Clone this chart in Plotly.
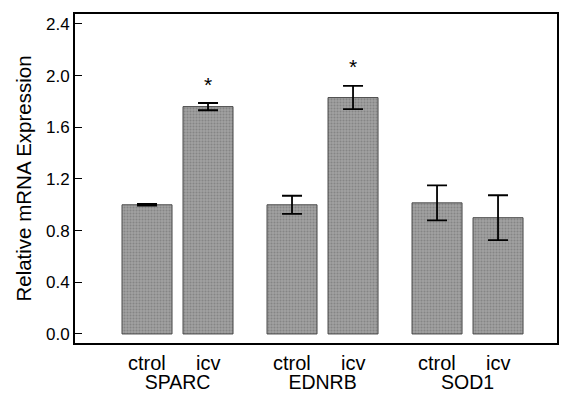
import plotly.graph_objects as go

genes = ["SPARC", "EDNRB", "SOD1"]
conditions = ["ctrol", "icv"]
ctrol_values = [1.00, 1.00, 1.015]
ctrol_errors = [0.006, 0.07, 0.135]
icv_values = [1.76, 1.83, 0.90]
icv_errors = [0.028, 0.09, 0.174]
icv_significant = [True, True, False]
y_ticks = [0.0, 0.4, 0.8, 1.2, 1.6, 2.0, 2.4]
y_title = "Relative mRNA Expression"

bar_color = "#a0a0a0"
edge_color = "#4a4a4a"
font_family = "Liberation Sans, Arial, sans-serif"

fig = go.Figure()
for name, vals, errs in [("ctrol", ctrol_values, ctrol_errors), ("icv", icv_values, icv_errors)]:
    fig.add_trace(go.Bar(
        x=genes, y=vals, name=name,
        marker=dict(color=bar_color, line=dict(color=edge_color, width=1),
                    pattern=dict(shape=".", size=3, solidity=0.35, fgcolor="#6a6a6a",
                                 fillmode="overlay")),
        error_y=dict(type="data", array=errs, visible=True, color="black",
                     thickness=1.8, width=10),
        showlegend=False,
    ))

annotations = []
shift = 30.5
for g in genes:
    for cond, xs in zip(conditions, [-shift, shift]):
        annotations.append(dict(x=g, xref="x", xshift=xs, y=-0.062, yref="paper",
                                text=cond, showarrow=False, yanchor="middle",
                                font=dict(size=20, color="black", family=font_family)))
for g, v, e, sig in zip(genes, icv_values, icv_errors, icv_significant):
    if sig:
        annotations.append(dict(x=g, xref="x", xshift=shift, y=v + e, yref="y",
                                yshift=19, text="*", showarrow=False, yanchor="middle",
                                font=dict(size=21, color="black", family=font_family)))

fig.update_layout(
    width=570, height=396,
    margin=dict(l=75, r=13, t=14, b=53),
    paper_bgcolor="white", plot_bgcolor="white",
    barmode="group", bargap=0.1586, bargroupgap=0.18,
    font=dict(family=font_family, color="black"),
    annotations=annotations,
    xaxis=dict(range=[-0.707, 2.617], showline=True, linecolor="black", linewidth=1.8,
               mirror=True, ticks="", showgrid=False, zeroline=False, automargin=False,
               tickfont=dict(size=19.5, color="black"), ticklabelstandoff=21),
    yaxis=dict(range=[-0.07, 2.477], showline=True, linecolor="black", linewidth=1.8,
               mirror=True, ticks="inside", ticklen=7, tickcolor="black", tickwidth=1,
               tickvals=y_ticks, tickformat=".1f", showgrid=False, zeroline=False,
               automargin=False,
               tickfont=dict(size=17, color="black"),
               title=dict(text=y_title, font=dict(size=20.5, color="black"), standoff=9)),
)

fig.write_html("out.html", config={"displayModeBar": False},
               post_script="document.body.style.margin='0';document.body.style.overflow='hidden';")
